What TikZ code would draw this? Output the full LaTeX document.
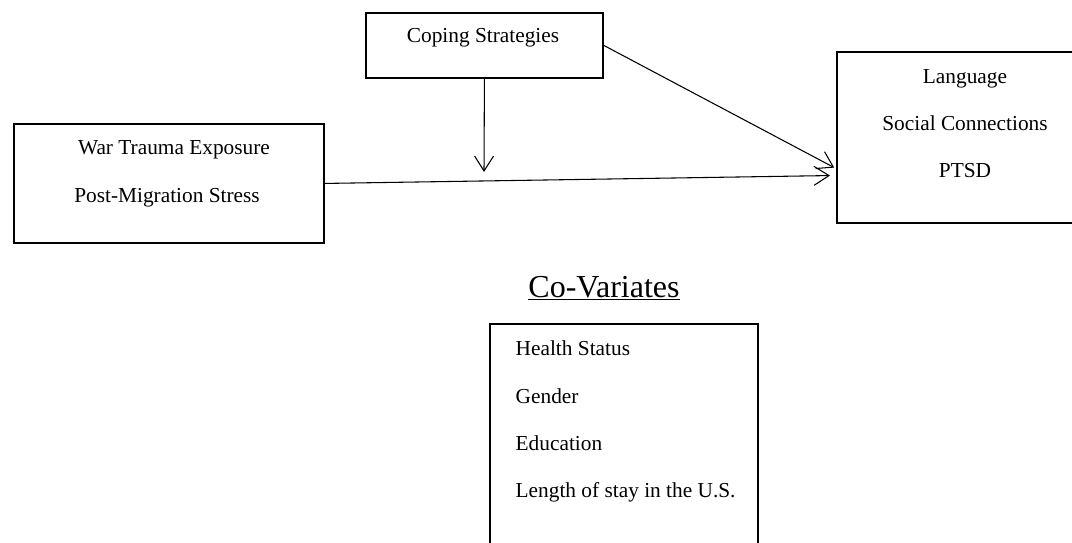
\documentclass[tikz,border=0pt]{standalone}
\usepackage{fontspec}
\setmainfont{Liberation Serif}
\usetikzlibrary{calc}
\usetikzlibrary{arrows.meta}

\tikzset{
  box/.style={draw, line width=1.4pt, rectangle, inner sep=0pt, anchor=north west},
  label/.style={anchor=base, font=\fontsize{16}{19}\selectfont},
  link/.style={line width=0.8pt, arrows={-Straight Barb[width=19*\px, length=15*\px]}}
}
\def\px{0.75pt}

\begin{document}
\begin{tikzpicture}[x=\px, y=-\px]
\useasboundingbox (0, 0) rectangle (1072, 543);

\node (cope) [box, minimum width=237*\px, minimum height=65*\px] at (365, 12) {};
\node (trauma) [box, minimum width=310*\px, minimum height=119*\px] at (13, 123) {};
\node (outcome) [box, minimum width=280*\px, minimum height=171*\px] at (836, 51) {};
\node (covar) [box, minimum width=268*\px, minimum height=260*\px] at (489, 323) {};

\node (cope1) [label] at (483, 42) {Coping Strategies};
\node (trauma1) [label] at (174, 154) {War Trauma Exposure};
\node (trauma2) [label] at (167, 202) {Post-Migration Stress};
\node (outcome1) [label] at (965, 83) {Language};
\node (outcome2) [label] at (965, 130) {Social Connections};
\node (outcome3) [label] at (965, 177) {PTSD};

\node (covhead) [anchor=base, font=\fontsize{24}{28}\selectfont] at (604, 297) {\underline{Co-Variates}};
\node (cov1) [label, anchor=base west] at (511, 355) {Health Status};
\node (cov2) [label, anchor=base west] at (511, 403) {Gender};
\node (cov3) [label, anchor=base west] at (511, 450) {Education};
\node (cov4) [label, anchor=base west] at (511, 497) {Length of stay in the U.S.};

\coordinate (mod) at (484, 172);

\draw [link, shorten >=6*\px] (trauma.east) -- ($(outcome.north west)!0.72!(outcome.south west)$);
\draw [link, shorten >=2*\px] (cope.east) -- ($(outcome.north west)!0.68!(outcome.south west)$);
\draw [link] (cope.south) -- (mod);
\end{tikzpicture}
\end{document}
